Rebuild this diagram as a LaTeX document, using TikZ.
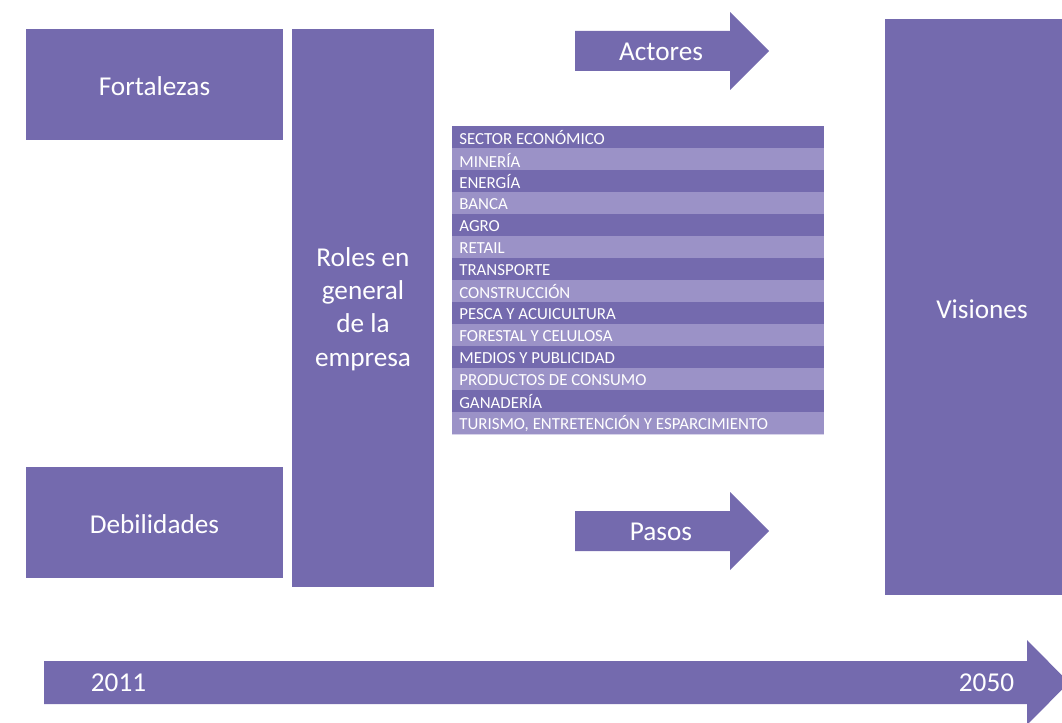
\documentclass[tikz,border=0pt]{standalone}
\usepackage{fontspec}
\setmainfont{Carlito}
\usetikzlibrary{positioning}
\definecolor{lila}{RGB}{116,106,174}
\definecolor{lilaclaro}{RGB}{155,146,199}

\begin{document}
\begin{tikzpicture}[x=0.02cm,y=-0.02cm,
  etiqueta/.style={text=white,font=\fontsize{15.5}{19}\selectfont,align=center,inner sep=0pt},
  sector/.style={text=white,font=\fontsize{9.6}{11}\selectfont,anchor=west,inner sep=0pt}]
\useasboundingbox (0,0) rectangle (1062,723);

% Cajas de la izquierda
\fill [lila] (26,29) rectangle (283,140);
\node[etiqueta] (fortalezas) at (154.5,86) {Fortalezas};
\fill [lila] (26,467) rectangle (283,578);
\node[etiqueta] (debilidades) at (154.5,524) {Debilidades};

\fill [lila] (292,29) rectangle (434,587);
\node[etiqueta] (roles) at (363,309) {Roles en\\general\\de la\\empresa};

% Visiones
\fill [lila] (885,19) rectangle (1080,595);
\node[etiqueta] (visiones) at (982,309) {Visiones};

% Flechas Actores / Pasos
\fill [lila] (575,31) -- (730,31) -- (730,12) -- (769,51) -- (730,90) -- (730,71) -- (575,71) -- cycle;
\node[etiqueta] (actores) at (661,52) {Actores};
\fill [lila] (575,511) -- (730,511) -- (730,492) -- (769,531) -- (730,570) -- (730,551) -- (575,551) -- cycle;
\node[etiqueta] (pasos) at (661,532) {Pasos};

% Tabla de sectores
\foreach \nombre [count=\i] in {SECTOR ECONÓMICO, MINERÍA, ENERGÍA, BANCA, AGRO, RETAIL, TRANSPORTE,
    CONSTRUCCIÓN, PESCA Y ACUICULTURA, FORESTAL Y CELULOSA, MEDIOS Y PUBLICIDAD,
    PRODUCTOS DE CONSUMO, GANADERÍA, {TURISMO, ENTRETENCIÓN Y ESPARCIMIENTO}}
{
  \pgfmathsetmacro{\ya}{126+(\i-1)*22}
  \pgfmathsetmacro{\yb}{\ya+22}
  \pgfmathparse{mod(\i,2)==1 ? "lila" : "lilaclaro"}
  \fill [\pgfmathresult] (452,\ya) rectangle (824,\yb);
  \draw [white!60!lilaclaro, line width=0.4pt] (452,\yb) -- (824,\yb);
  \node[sector] (fila\i) at (459,\ya+12) {\nombre};
}

% Linea de tiempo
\fill [lila] (44,661) -- (1027,661) -- (1027,640) -- (1069,682.5) -- (1027,725) -- (1027,704) -- (44,704) -- cycle;
\node[etiqueta] (inicio) at (118.5,683) {2011};
\node[etiqueta] (fin) at (986.5,683) {2050};

\end{tikzpicture}
\end{document}
